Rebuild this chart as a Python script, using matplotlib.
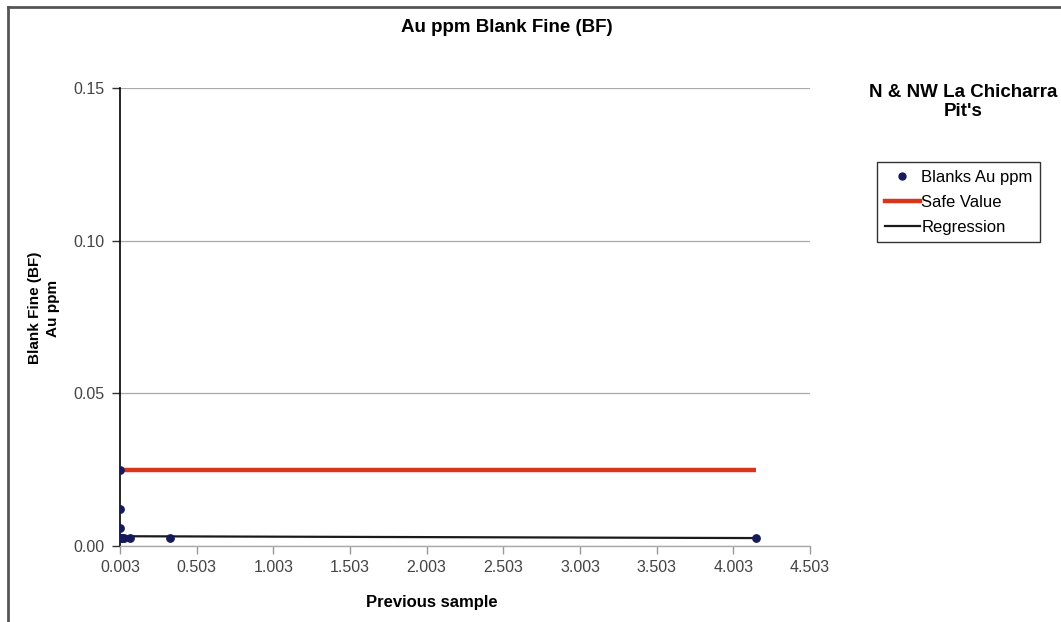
import matplotlib
matplotlib.use("Agg")
import matplotlib.pyplot as plt
from matplotlib.lines import Line2D

plt.rcParams['font.family'] = ['Liberation Sans', 'DejaVu Sans']

# Data
prev_sample = [0.003, 0.003, 0.003, 0.003, 0.008, 0.015, 0.030, 0.070, 0.330, 4.151]
blanks_au = [0.025, 0.012, 0.006, 0.0025, 0.0025, 0.0025, 0.0025, 0.0025, 0.0025, 0.0025]
safe_x = [0.003, 4.151]
safe_y = [0.025, 0.025]
reg_x = [0.003, 4.151]
reg_y = [0.0032, 0.0026]
xticks = [0.003, 0.503, 1.003, 1.503, 2.003, 2.503, 3.003, 3.503, 4.003, 4.503]
xtick_labels = ["0.003", "0.503", "1.003", "1.503", "2.003", "2.503", "3.003", "3.503", "4.003", "4.503"]
yticks = [0.00, 0.05, 0.10, 0.15]
ytick_labels = ["0.00", "0.05", "0.10", "0.15"]

W, H = 1061, 622
fig = plt.figure(figsize=(W / 100, H / 100), dpi=100)

# Outer frame (top and left edges visible)
fig.add_artist(Line2D([8 / W, 8 / W], [0, 1 - 7 / H], transform=fig.transFigure, color='#555555', lw=2))
fig.add_artist(Line2D([8 / W, 1], [1 - 7 / H, 1 - 7 / H], transform=fig.transFigure, color='#555555', lw=2))

ax = fig.add_axes([120 / W, 1 - 546 / H, 690 / W, (546 - 88) / H])

ax.plot(safe_x, safe_y, color='#d9341c', lw=3.2, solid_capstyle='butt', zorder=3, label='Safe Value')
ax.plot(reg_x, reg_y, color='#1a1a1a', lw=1.6, zorder=4, label='Regression')
ax.scatter(prev_sample, blanks_au, s=28, color='#141a5c', zorder=5, label='Blanks Au ppm')

ax.set_xlim(0.003, 4.503)
ax.set_ylim(0.0, 0.15)
ax.set_xticks(xticks)
ax.set_xticklabels(xtick_labels)
ax.set_yticks(yticks)
ax.set_yticklabels(ytick_labels)
ax.tick_params(axis='both', labelsize=11.5, labelcolor='#444444', length=6, width=1)
ax.tick_params(axis='x', color='#999999', pad=4)
ax.tick_params(axis='y', color='#333333', pad=5)

ax.grid(axis='y', color='#aaaaaa', lw=0.9)
ax.set_axisbelow(True)
for s in ['top', 'right']:
    ax.spines[s].set_visible(False)
ax.spines['left'].set_color('black')
ax.spines['left'].set_linewidth(1.2)
ax.spines['bottom'].set_color('#aaaaaa')
ax.spines['bottom'].set_linewidth(1.0)

fig.text(432 / W, 1 - 603 / H, "Previous sample", ha='center', va='center', fontsize=12, fontweight='bold')
fig.text(44 / W, 1 - 308 / H, "Blank Fine (BF)\nAu ppm", ha='center', va='center', rotation=90,
         fontsize=11, fontweight='bold', linespacing=1.3)
fig.text(507 / W, 1 - 27 / H, "Au ppm Blank Fine (BF)", ha='center', va='center', fontsize=13.5, fontweight='bold')
fig.text(963 / W, 1 - 102 / H, "N & NW La Chicharra\nPit's", ha='center', va='center', fontsize=13.5,
         fontweight='bold', linespacing=1.1)

handles = [
    Line2D([], [], marker='o', ls='none', color='#141a5c', markersize=5),
    Line2D([], [], color='#d9341c', lw=3.2),
    Line2D([], [], color='#1a1a1a', lw=1.6),
]
leg = fig.legend(handles, ['Blanks Au ppm', 'Safe Value', 'Regression'],
                 loc='upper left', bbox_to_anchor=(877 / W, 1 - 162 / H),
                 bbox_transform=fig.transFigure, fontsize=12, frameon=True, fancybox=False,
                 handlelength=2.1, handletextpad=0.1, borderpad=0.45, labelspacing=0.6,
                 borderaxespad=0)
leg.get_frame().set_edgecolor('black')
leg.get_frame().set_linewidth(1.0)

fig.savefig("out.png", dpi=100)
